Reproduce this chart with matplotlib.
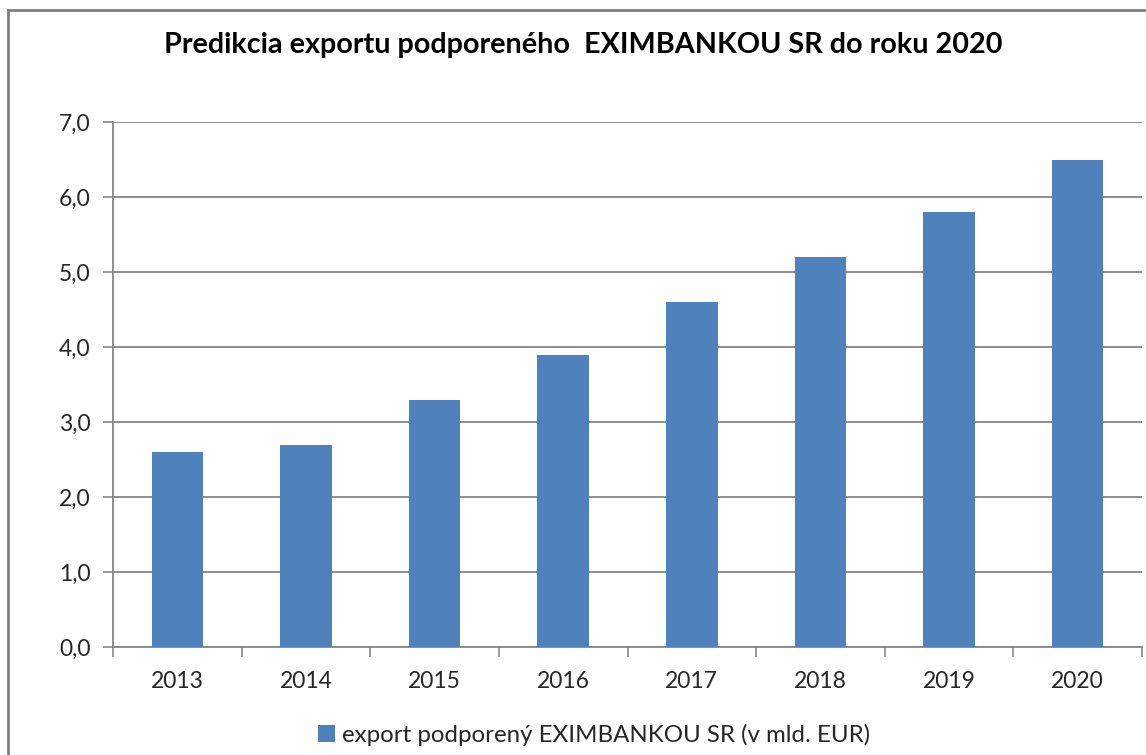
import matplotlib
matplotlib.use("Agg")
import matplotlib.pyplot as plt
from matplotlib.lines import Line2D
from matplotlib.ticker import FuncFormatter

years = ['2013', '2014', '2015', '2016', '2017', '2018', '2019', '2020']
export = [2.6, 2.7, 3.3, 3.9, 4.6, 5.2, 5.8, 6.5]

plt.rcParams['font.family'] = ['Lato', 'DejaVu Sans']

W, H = 1146, 755
fig = plt.figure(figsize=(W / 100, H / 100), dpi=100)
ax = fig.add_axes([113 / W, 1 - 647 / H, 1029 / W, 525 / H])

pos = [i + 0.5 for i in range(len(years))]
ax.bar(pos, export, width=0.4, color='#4F81BD', zorder=3,
       label='export podporený EXIMBANKOU SR (v mld. EUR)')

ax.set_xlim(0, len(years))
ax.set_ylim(0, 7)
ax.set_yticks(range(8))
ax.yaxis.set_major_formatter(FuncFormatter(lambda v, p: f'{v:.1f}'.replace('.', ',')))
ax.grid(axis='y', color='#868686', linewidth=1.3, zorder=0)

# category labels centered, ticks between categories
ax.set_xticks(pos)
ax.set_xticklabels(years)
ax.set_xticks(range(len(years) + 1), minor=True)
ax.tick_params(axis='x', which='major', length=0, pad=17, labelsize=16.5, labelcolor='#262626')
ax.tick_params(axis='x', which='minor', length=7, width=1.2, color='#868686', direction='out')
ax.tick_params(axis='y', length=7, width=1.2, color='#868686', pad=9, labelsize=16.5, labelcolor='#262626')

for s in ['top', 'right']:
    ax.spines[s].set_visible(False)
for s in ['left', 'bottom']:
    ax.spines[s].set_color('#868686')
    ax.spines[s].set_linewidth(1.3)

fig.text(583 / W, 1 - 45 / H, 'Predikcia exportu podporeného  EXIMBANKOU SR do roku 2020',
         ha='center', va='center', fontsize=20.7, fontweight='bold', color='black')

fig.legend(loc='center', bbox_to_anchor=(594 / W, 1 - 735 / H), frameon=False,
           fontsize=17.3, handlelength=0.7, handleheight=0.7, handletextpad=0.3,
           labelcolor='#262626')

# outer chart border (cut off at right and bottom)
fig.add_artist(Line2D([8 / W, 8 / W], [0, 1 - 10 / H], transform=fig.transFigure,
                      color='#808080', linewidth=2))
fig.add_artist(Line2D([8 / W, 1], [1 - 10 / H, 1 - 10 / H], transform=fig.transFigure,
                      color='#808080', linewidth=2))

fig.savefig('out.png', dpi=100)
